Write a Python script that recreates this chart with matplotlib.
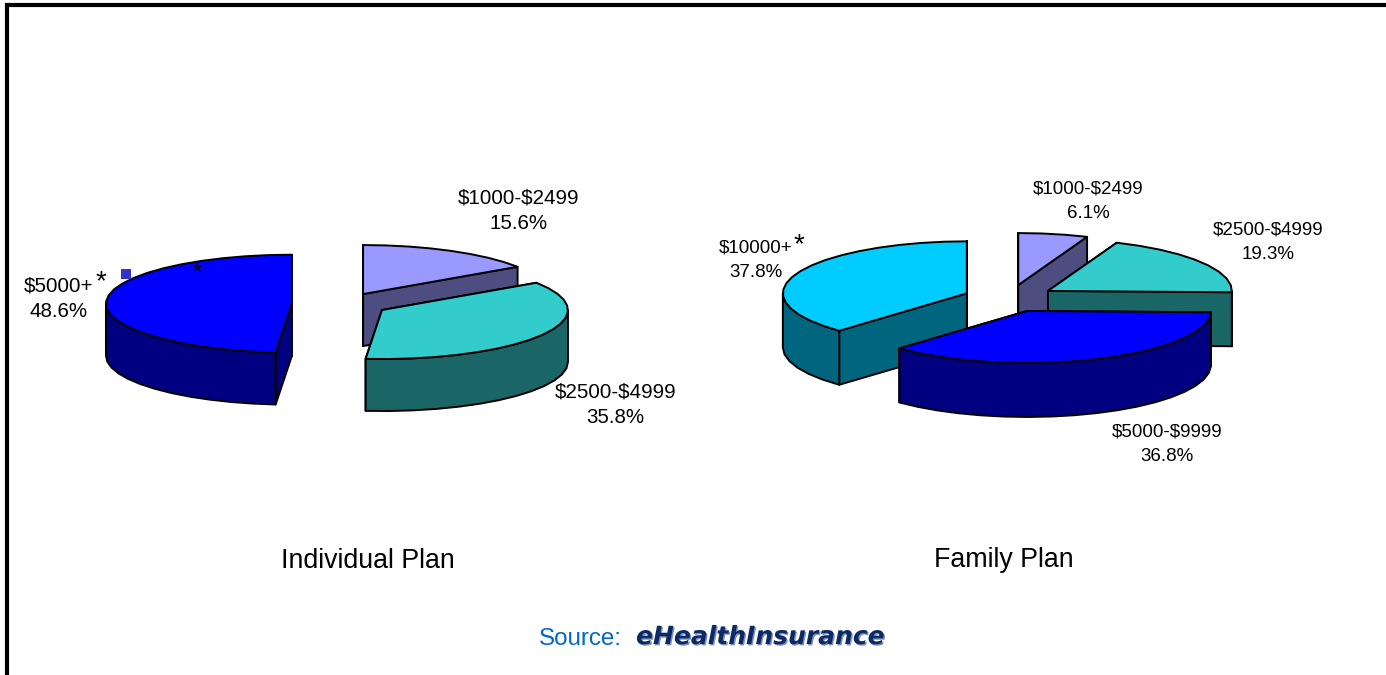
import numpy as np
import matplotlib
matplotlib.use('Agg')
import matplotlib.pyplot as plt
import matplotlib.patheffects as pe

plt.rcParams['font.family'] = ['Liberation Sans', 'DejaVu Sans']

# slices go clockwise from 12 o'clock
individual_cats = ['$1000-$2499', '$2500-$4999', '$5000+']
individual_vals = [15.6, 35.8, 48.6]
individual_tops = ['#9999FF', '#33CCCC', '#0000FF']
individual_sides = ['#4D4D80', '#1A6666', '#000080']

family_cats = ['$1000-$2499', '$2500-$4999', '$5000-$9999', '$10000+']
family_vals = [6.1, 19.3, 36.8, 37.8]
family_tops = ['#9999FF', '#33CCCC', '#0000FF', '#00CCFF']
family_sides = ['#4D4D80', '#1A6666', '#000080', '#006680']


def arc(cx, cy, rx, ry, a0, a1):
    n = max(2, int(abs(a1 - a0) / 7) + 1)
    t = np.radians(np.linspace(a0, a1, n))
    return cx + rx * np.cos(t), cy - ry * np.sin(t)


def draw_pie(ax, vals, tops, sides, cx, cy, rx, ry, depth, ex, ey):
    slices = []
    start = 90.0
    for v, top, side in zip(vals, tops, sides):
        end = start - v * 3.6
        mid = np.radians((start + end) / 2)
        x0 = cx + ex * np.cos(mid)
        y0 = cy - ey * np.sin(mid)
        slices.append((y0, x0, start, end, top, side))
        start = end

    # back slices first so the front ones cover them
    for y0, x0, a0, a1, top, side in sorted(slices, key=lambda s: s[0]):
        kw = dict(edgecolor='black', linewidth=1.4, joinstyle='round')
        for a in (a0, a1):
            xa, ya = arc(x0, y0, rx, ry, a, a)
            ax.fill([x0, xa[0], xa[0], x0],
                    [y0, ya[0], ya[0] + depth, y0 + depth], facecolor=side, **kw)
        w0, w1 = min(a0, 0), max(a1, -180)
        if w0 > w1:
            xw, yw = arc(x0, y0, rx, ry, w0, w1)
            ax.fill(np.r_[xw, xw[::-1]], np.r_[yw, yw[::-1] + depth], facecolor=side, **kw)
        xt, yt = arc(x0, y0, rx, ry, a0, a1)
        ax.fill(np.r_[x0, xt], np.r_[y0, yt], facecolor=top, **kw)


fig = plt.figure(figsize=(13.86, 6.75), dpi=100)
ax = fig.add_axes([0, 0, 1, 1])
ax.set_xlim(0, 1386)
ax.set_ylim(675, 0)
ax.axis('off')

# frame, only top and left show up
ax.plot([7, 7, 1386], [675, 5, 5], color='black', lw=3.0, solid_joinstyle='miter')

draw_pie(ax, individual_vals, individual_tops, individual_sides, 340.3, 304.2, 186, 49, 52, 48.4, 11.5)
draw_pie(ax, family_vals, family_tops, family_sides, 1009.5, 298.4, 184, 52, 54, 46, 13.6)

# labels, parse_math off because of the dollar signs
ind_pos = [(518.5, 211), (615.5, 405), (59, 299)]
for cat, v, (x, y) in zip(individual_cats, individual_vals, ind_pos):
    ax.text(x, y, f'{cat}\n{v}%', ha='center', va='center', fontsize=14.8,
            linespacing=1.45, parse_math=False)

fam_pos = [(1088, 201), (1268, 242), (1167, 444), (756, 260)]
for cat, v, (x, y) in zip(family_cats, family_vals, fam_pos):
    ax.text(x, y, f'{cat}\n{v}%', ha='center', va='center', fontsize=13.5,
            linespacing=1.55, parse_math=False)

ax.text(101, 282, '*', ha='center', va='center', fontsize=20)
ax.text(799, 245, '*', ha='center', va='center', fontsize=20)
ax.text(197, 274, '*', ha='center', va='center', fontsize=17)
ax.plot([126], [274], marker='s', ms=7, color='#3333CC', mew=0)

ax.text(368, 561, 'Individual Plan', ha='center', va='center', fontsize=19.3)
ax.text(1004, 560, 'Family Plan', ha='center', va='center', fontsize=19.3)

ax.text(539, 639, 'Source:', ha='left', va='center', fontsize=17.4, color='#0066CC')
ax.text(636, 637, 'eHealthInsurance', ha='left', va='center', fontsize=18,
        family='DejaVu Sans', weight='bold', style='oblique', color='#0B2A66',
        path_effects=[pe.withSimplePatchShadow(offset=(1, -1), shadow_rgbFace='#8090B8', alpha=1)])

fig.savefig('out.png', dpi=100)
